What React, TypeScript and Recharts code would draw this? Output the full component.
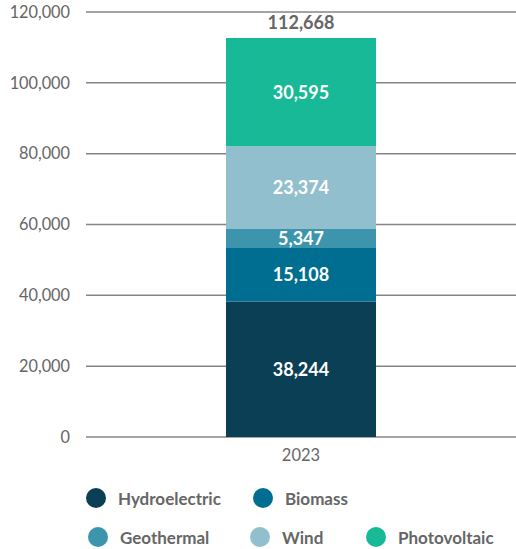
import React from "react";
import {
  BarChart,
  Bar,
  XAxis,
  YAxis,
  CartesianGrid,
  Legend,
  LabelList,
} from "recharts";

const categories = ["2023"];
const hydroelectric = [38244];
const biomass = [15108];
const geothermal = [5347];
const wind = [23374];
const photovoltaic = [30595];
const yTicks = [0, 20000, 40000, 60000, 80000, 100000, 120000];

const series = [
  { key: "hydroelectric", name: "Hydroelectric", color: "#0a3f55", values: hydroelectric },
  { key: "biomass", name: "Biomass", color: "#006e91", values: biomass },
  { key: "geothermal", name: "Geothermal", color: "#3d95ad", values: geothermal },
  { key: "wind", name: "Wind", color: "#92bfcd", values: wind },
  { key: "photovoltaic", name: "Photovoltaic", color: "#17b996", values: photovoltaic },
];

const data = categories.map((year, i) => {
  const row: any = { year };
  let total = 0;
  series.forEach((s) => {
    row[s.key] = s.values[i];
    total += s.values[i];
  });
  row.total = total;
  return row;
});

const FONT = "Lato, 'Noto Sans', sans-serif";
const GREY = "#666666";
const fmt = (v: number) => v.toLocaleString("en-US");

// legend item left edges (circle) per row
const legendRows = [
  { top: 488, lefts: [86, 253], items: series.slice(0, 2) },
  { top: 527, lefts: [88, 250, 366], items: series.slice(2) },
];

const CustomLegend = () => (
  <div style={{ position: "relative", fontFamily: FONT, color: GREY, fontSize: 17, fontWeight: 700 }}>
    {legendRows.map((row, r) =>
      row.items.map((s, j) => (
        <div
          key={s.key}
          style={{
            position: "absolute",
            left: row.lefts[j],
            top: row.top - legendRows[0].top,
            height: 20,
            display: "flex",
            alignItems: "center",
            whiteSpace: "nowrap",
          }}
        >
          <span
            style={{
              width: 20,
              height: 20,
              borderRadius: 10,
              background: s.color,
              display: "inline-block",
              marginRight: 12,
            }}
          />
          <span>{s.name}</span>
        </div>
      ))
    )}
  </div>
);

const TotalLabel = (props: any) => {
  const { x, y, width, index } = props;
  return (
    <text
      x={x + width / 2}
      y={y - 16}
      textAnchor="middle"
      dominantBaseline="central"
      fill={GREY}
      fontFamily={FONT}
      fontWeight={700}
      fontSize={18}
    >
      {fmt(data[index].total)}
    </text>
  );
};

export default function App() {
  return (
    <div style={{ position: "absolute", left: 0, top: 0, background: "#fff" }}>
      <BarChart
        width={516}
        height={549}
        data={data}
        margin={{ top: 12, right: 0, left: 0, bottom: 0 }}
        barSize={150}
      >
        <CartesianGrid vertical={false} stroke="#858585" strokeWidth={1.5} />
        <XAxis
          dataKey="year"
          axisLine={false}
          tickLine={false}
          tickSize={0}
          tickMargin={12}
          height={34}
          tick={{ fill: GREY, fontSize: 16.5, fontFamily: FONT }}
        />
        <YAxis
          width={86}
          domain={[0, 120000]}
          ticks={yTicks}
          axisLine={false}
          tickLine={false}
          tickSize={0}
          tickMargin={16}
          tickFormatter={fmt}
          tick={{ fill: GREY, fontSize: 16.3, fontFamily: FONT }}
        />
        <Legend
          verticalAlign="bottom"
          height={78}
          wrapperStyle={{ left: 0, top: 488, width: 516 }}
          content={<CustomLegend />}
        />
        {series.map((s, i) => (
          <Bar
            key={s.key}
            dataKey={s.key}
            name={s.name}
            stackId="a"
            fill={s.color}
            isAnimationActive={false}
          >
            <LabelList
              dataKey={s.key}
              position="center"
              formatter={(v: any) => fmt(Number(v))}
              style={{ fill: "#ffffff", fontFamily: FONT, fontWeight: 700, fontSize: 18 }}
            />
            {i === series.length - 1 && (
              <LabelList dataKey="total" content={<TotalLabel />} />
            )}
          </Bar>
        ))}
      </BarChart>
    </div>
  );
}
